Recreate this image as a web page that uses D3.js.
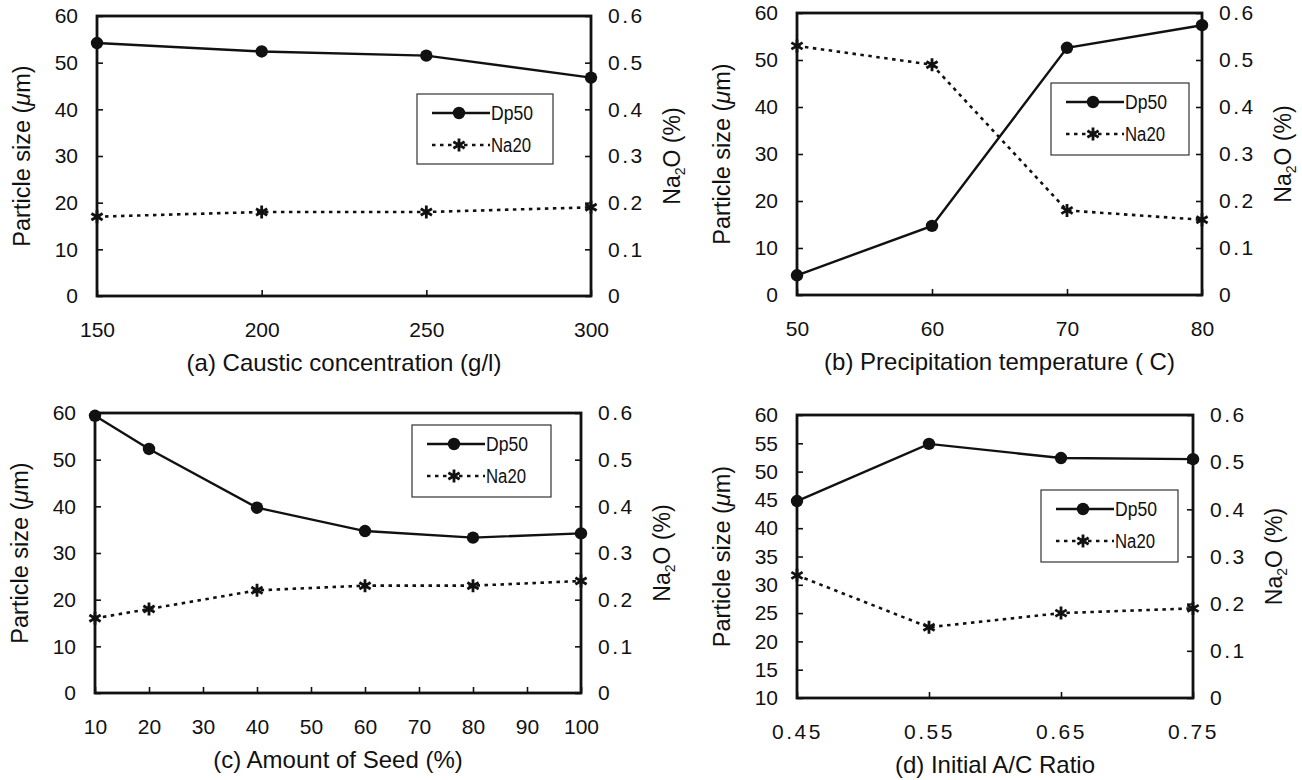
<!DOCTYPE html>
<html>
<head>
<meta charset="utf-8">
<script src="https://cdn.jsdelivr.net/npm/d3@7/dist/d3.min.js"></script>
<style>
  html, body { margin: 0; padding: 0; background: #fff; }
  svg { display: block; }
  text { font-family: "Liberation Sans", Arial, Helvetica, sans-serif; fill: #111; }
</style>
</head>
<body>
<svg id="chart" width="1302" height="780"></svg>
<script>
// ---- data -------------------------------------------------------------
const causticConc = [150, 200, 250, 300];
const dp50Caustic = [54.2, 52.4, 51.5, 46.8];
const na2oCaustic = [0.17, 0.18, 0.18, 0.19];

const precipTemp = [50, 60, 70, 80];
const dp50Temp = [4.2, 14.7, 52.6, 57.4];
const na2oTemp = [0.53, 0.49, 0.18, 0.16];

const seedAmount = [10, 20, 40, 60, 80, 100];
const dp50Seed = [59.4, 52.3, 39.7, 34.7, 33.3, 34.2];
const na2oSeed = [0.16, 0.18, 0.22, 0.23, 0.23, 0.24];

const acRatio = [0.45, 0.55, 0.65, 0.75];
const dp50Ratio = [44.8, 54.9, 52.4, 52.2];
const na2oRatio = [0.26, 0.15, 0.18, 0.19];

// ---- tick labels ------------------------------------------------------
const ticksCaustic = [150, 200, 250, 300];
const ticksTemp = [50, 60, 70, 80];
const ticksSeed = [10, 20, 30, 40, 50, 60, 70, 80, 90, 100];
const ticksRatio = [0.45, 0.55, 0.65, 0.75];
const sizeTicks = [0, 10, 20, 30, 40, 50, 60];
const sizeTicksRatio = [10, 15, 20, 25, 30, 35, 40, 45, 50, 55, 60];
const na2oTicks = [0, 0.1, 0.2, 0.3, 0.4, 0.5, 0.6];

const seriesNames = ["Dp50", "Na20"];

// ---- panel layout ------------------------------------------------------
const panels = [
  { x: causticConc, dp: dp50Caustic, na: na2oCaustic, xTicks: ticksCaustic, xFmt: d3.format("d"),
    yDomain: [0, 60], yTicks: sizeTicks, title: "(a) Caustic concentration (g/l)",
    box: { l: 97, r: 591, t: 16, b: 296 }, legend: { x: 417, y: 94, w: 136, h: 70 } },
  { x: precipTemp, dp: dp50Temp, na: na2oTemp, xTicks: ticksTemp, xFmt: d3.format("d"),
    yDomain: [0, 60], yTicks: sizeTicks, title: "(b) Precipitation temperature ( C)",
    box: { l: 797, r: 1202, t: 13, b: 295 }, legend: { x: 1051, y: 83, w: 138, h: 72 } },
  { x: seedAmount, dp: dp50Seed, na: na2oSeed, xTicks: ticksSeed, xFmt: d3.format("d"),
    yDomain: [0, 60], yTicks: sizeTicks, title: "(c) Amount of Seed (%)",
    box: { l: 95, r: 581, t: 413, b: 693 }, legend: { x: 412, y: 425, w: 139, h: 72 } },
  { x: acRatio, dp: dp50Ratio, na: na2oRatio, xTicks: ticksRatio, xFmt: d3.format(".2f"),
    yDomain: [10, 60], yTicks: sizeTicksRatio, title: "(d) Initial A/C Ratio",
    box: { l: 797, r: 1193, t: 415, b: 698 }, legend: { x: 1041, y: 490, w: 137, h: 72 } }
];

const svg = d3.select("#chart");
const na2oFmt = d => d === 0 ? "0" : d3.format(".1f")(d);

// six-armed asterisk marker
function starPath(r) {
  const a = r * Math.cos(Math.PI / 6), b = r * Math.sin(Math.PI / 6);
  return `M${-a},${-b}L${a},${b}M${-a},${b}L${a},${-b}M0,${-r}L0,${r}`;
}

panels.forEach(p => {
  const { l, r, t, b } = p.box;
  const g = svg.append("g");

  const x = d3.scaleLinear().domain(d3.extent(p.xTicks)).range([l, r]);
  const y = d3.scaleLinear().domain(p.yDomain).range([b, t]);
  const y2 = d3.scaleLinear().domain([0, 0.6]).range([b, t]);

  // axes with inward ticks
  const ax = g.append("g").attr("transform", `translate(0,${b})`)
    .call(d3.axisBottom(x).tickValues(p.xTicks).tickFormat(p.xFmt).tickSize(-6).tickPadding(26));
  const ay = g.append("g").attr("transform", `translate(${l},0)`)
    .call(d3.axisLeft(y).tickValues(p.yTicks).tickFormat(d3.format("d")).tickSize(-6).tickPadding(19));
  const ay2 = g.append("g").attr("transform", `translate(${r},0)`)
    .call(d3.axisRight(y2).tickValues(na2oTicks).tickFormat(na2oFmt).tickSize(-6).tickPadding(17));

  [ax, ay, ay2].forEach(a => {
    a.select(".domain").remove();
    a.selectAll(".tick line").attr("stroke", "#111").attr("stroke-width", 1.6);
    a.selectAll(".tick text").attr("font-size", 21).attr("fill", "#111")
      .attr("font-family", "'Liberation Sans', Arial, sans-serif");
  });
  ay2.selectAll(".tick text").attr("letter-spacing", 2.5);
  if (p.xFmt(0.5).includes(".")) ax.selectAll(".tick text").attr("letter-spacing", 2.5);

  // frame
  g.append("rect").attr("x", l).attr("y", t).attr("width", r - l).attr("height", b - t)
    .attr("fill", "none").attr("stroke", "#111").attr("stroke-width", 2.8);

  // Na2O series (right axis), dashed with asterisks
  const naPts = p.x.map((v, i) => [x(v), y2(p.na[i])]);
  g.append("path").attr("d", d3.line()(naPts))
    .attr("fill", "none").attr("stroke", "#111").attr("stroke-width", 2.6)
    .attr("stroke-dasharray", "3.5,4.5");
  g.selectAll(".star").data(naPts).join("path")
    .attr("transform", d => `translate(${d[0]},${d[1]})`)
    .attr("d", starPath(6.5)).attr("stroke", "#111").attr("stroke-width", 2.8).attr("fill", "none");

  // Dp50 series (left axis), solid with filled circles
  const dpPts = p.x.map((v, i) => [x(v), y(p.dp[i])]);
  g.append("path").attr("d", d3.line()(dpPts))
    .attr("fill", "none").attr("stroke", "#111").attr("stroke-width", 2.4);
  g.selectAll(".dot").data(dpPts).join("circle")
    .attr("cx", d => d[0]).attr("cy", d => d[1]).attr("r", 6.2).attr("fill", "#111");

  // axis titles
  g.append("text").attr("x", (l + r) / 2).attr("y", b + 75)
    .attr("text-anchor", "middle").attr("font-size", 24).text(p.title);

  const yt = g.append("text")
    .attr("transform", `translate(${l - 75},${(t + b) / 2}) rotate(-90)`)
    .attr("text-anchor", "middle").attr("dy", "0.35em").attr("font-size", 23.5);
  yt.append("tspan").text("Particle size (");
  yt.append("tspan").attr("font-style", "italic").text("μ");
  yt.append("tspan").text("m)");

  const rt = g.append("text")
    .attr("transform", `translate(${r + 81},${(t + b) / 2}) rotate(-90)`)
    .attr("text-anchor", "middle").attr("dy", "0.35em").attr("font-size", 23);
  rt.append("tspan").text("Na");
  rt.append("tspan").attr("font-size", 14).attr("dy", 5).text("2");
  rt.append("tspan").attr("dy", -5).text("O (%)");

  // legend
  const L = p.legend;
  const lg = g.append("g").attr("transform", `translate(${L.x},${L.y})`);
  lg.append("rect").attr("width", L.w).attr("height", L.h)
    .attr("fill", "#fff").attr("stroke", "#333").attr("stroke-width", 1.2);
  const rowY = [19, 51];
  const textLen = [42, 40];
  seriesNames.forEach((name, i) => {
    const ry = rowY[i];
    lg.append("line").attr("x1", 15).attr("x2", 73).attr("y1", ry).attr("y2", ry)
      .attr("stroke", "#111").attr("stroke-width", i === 0 ? 2.4 : 2.6)
      .attr("stroke-dasharray", i === 0 ? null : "3.5,4.5");
    if (i === 0) {
      lg.append("circle").attr("cx", 42).attr("cy", ry).attr("r", 6.2).attr("fill", "#111");
    } else {
      lg.append("path").attr("transform", `translate(42,${ry})`).attr("d", starPath(6.5))
        .attr("stroke", "#111").attr("stroke-width", 2.8).attr("fill", "none");
    }
    lg.append("text").attr("x", 74).attr("y", ry).attr("dy", "0.36em")
      .attr("font-size", 20).attr("textLength", textLen[i]).attr("lengthAdjust", "spacingAndGlyphs")
      .text(name);
  });
});
</script>
</body>
</html>
